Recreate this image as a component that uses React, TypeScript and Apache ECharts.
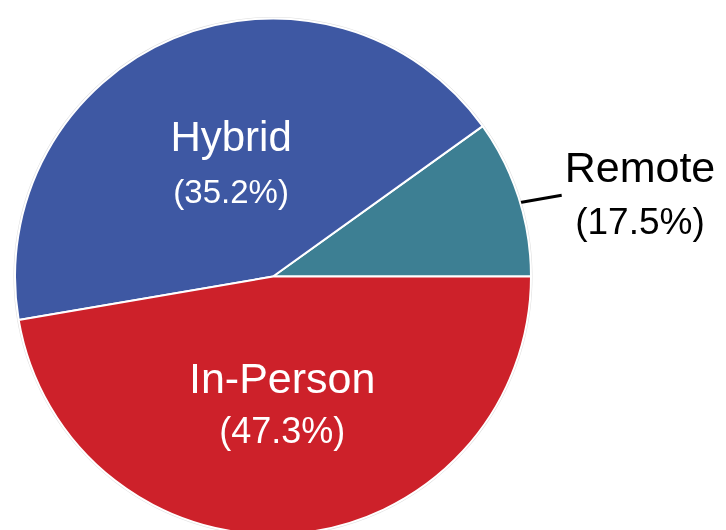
import React, { useEffect, useRef } from 'react';
import * as echarts from 'echarts';

const categories = ['Remote', 'Hybrid', 'In-Person'];
const sliceValues = [9.9, 42.8, 47.3];
const labelPercents = ['17.5%', '35.2%', '47.3%'];
const sliceColors = ['#3d7f93', '#3e58a3', '#cd212a'];

export default function App() {
  const ref = useRef<HTMLDivElement>(null);
  useEffect(() => {
    const chart = echarts.init(ref.current!, null, { renderer: 'svg' });
    const font = '"Liberation Sans", Arial, Helvetica, sans-serif';
    const labelStyles = [
      { position: 'outside', color: '#000000', n: 43, p: 37, lh: 54, dx: 0, dy: 9 },
      { position: 'inside', color: '#ffffff', n: 42, p: 33, lh: 55, dx: 9, dy: 9 },
      { position: 'inside', color: '#ffffff', n: 43, p: 36, lh: 52, dx: -2, dy: -4 },
    ];
    const data = categories.map((name, i) => {
      const s = labelStyles[i];
      return {
        name,
        value: sliceValues[i],
        itemStyle: { color: sliceColors[i] },
        label: {
          show: true,
          position: s.position,
          formatter: `{n|${name}}\n{p|(${labelPercents[i]})}`,
          rich: {
            n: { fontSize: s.n, color: s.color, lineHeight: s.lh, align: 'center', fontFamily: font },
            p: { fontSize: s.p, color: s.color, lineHeight: s.lh, align: 'center', fontFamily: font },
          },
        },
        labelLine: { show: i === 0 },
      };
    });
    chart.setOption({
      animation: false,
      series: [
        {
          type: 'pie',
          silent: true,
          center: [273, 276.5],
          radius: 259.5,
          z: 1,
          data: [{ value: 1, name: '' }],
          itemStyle: { color: '#dedede' },
          label: { show: false },
          labelLine: { show: false },
        },
        {
          type: 'pie',
          z: 2,
          center: [273, 276.5],
          radius: 258,
          startAngle: 0,
          clockwise: false,
          avoidLabelOverlap: false,
          itemStyle: { borderColor: '#ffffff', borderWidth: 2 },
          label: { fontFamily: font },
          labelLine: { length: 40, length2: 3, smooth: false, lineStyle: { color: '#000000', width: 3 } },
          labelLayout: (params: any) => {
            const s = labelStyles[params.dataIndex];
            if (!s) return {};
            const out: any = { dx: s.dx, dy: s.dy };
            const pts = params.labelLinePoints;
            if (params.dataIndex === 0 && pts && pts.length >= 2) {
              const last = pts[pts.length - 1];
              out.labelLinePoints = [
                [pts[0][0] + 1.6, pts[0][1] + 5],
                [last[0] + 2, last[1] + 10],
                [last[0] + 2, last[1] + 10],
              ];
            }
            return out;
          },
          data,
        },
      ],
    });
    return () => chart.dispose();
  }, []);
  return <div ref={ref} style={{ position: 'fixed', left: 0, top: 0, width: 726, height: 530 }} />;
}
